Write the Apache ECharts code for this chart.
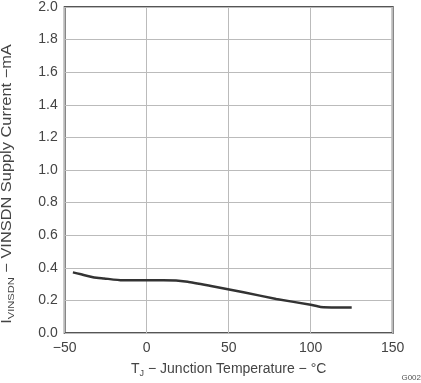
<!DOCTYPE html>
<html>
<head>
<meta charset="utf-8">
<script src="https://cdn.jsdelivr.net/npm/echarts@6/dist/echarts.min.js"></script>
<style>
html,body{margin:0;padding:0;background:#fff;}
#c{width:421px;height:383px;}
</style>
</head>
<body>
<div id="c"></div>
<script>
var temperatures = [-45, -40, -32, -26, -15, 0, 10, 25, 40, 59, 79, 100, 106, 116, 125];
var supplyCurrent = [0.372, 0.36, 0.341, 0.335, 0.323, 0.323, 0.323, 0.315, 0.287, 0.25, 0.209, 0.173, 0.16, 0.157, 0.157];
var xTicks = [-50, 0, 50, 100, 150];
var yTicks = [0.0, 0.2, 0.4, 0.6, 0.8, 1.0, 1.2, 1.4, 1.6, 1.8, 2.0];

var font = 'Liberation Sans, Arial, sans-serif';
var txt = '#444';
var chart = echarts.init(document.getElementById('c'));
var pts = temperatures.map(function (t, i) { return [t, supplyCurrent[i]]; });
chart.setOption({
  animation: false,
  grid: { left: 64.7, right: 28.3, top: 5, bottom: 50, show: true, borderColor: '#555', borderWidth: 2, backgroundColor: 'transparent' },
  xAxis: {
    type: 'value', min: -50, max: 150, interval: 50,
    name: '{a|T}{s|J}{a| − Junction Temperature − °C}',
    nameLocation: 'middle', nameGap: 28,
    nameTextStyle: { rich: {
      a: { fontFamily: font, fontSize: 14, color: txt },
      s: { fontFamily: font, fontSize: 9, color: txt, padding: [8, 0, 0, 0] }
    } },
    axisLine: { show: false }, axisTick: { show: false },
    axisLabel: { fontFamily: font, fontSize: 14, color: txt, margin: 8,
      formatter: function (v) { return xTicks.indexOf(v) >= 0 ? String(v).replace('-', '−') : ''; } },
    splitLine: { show: true, lineStyle: { color: '#bbb', width: 1 } }
  },
  yAxis: {
    type: 'value', min: 0, max: 2, interval: 0.2,
    axisLine: { show: false }, axisTick: { show: false },
    axisLabel: { fontFamily: font, fontSize: 14, color: txt, margin: 7,
      formatter: function (v) { return v.toFixed(1); } },
    splitLine: { show: true, lineStyle: { color: '#bbb', width: 1 } }
  },
  graphic: [
    {
      type: 'text', x: 7, y: 184, rotation: Math.PI / 2, scaleX: 1.17,
      style: {
        text: '{a|I}{s|VINSDN}{a| − VINSDN Supply Current −mA}',
        align: 'center', verticalAlign: 'middle',
        rich: {
          a: { fontFamily: font, fontSize: 14, fill: txt, color: txt },
          s: { fontFamily: font, fontSize: 9.5, fill: txt, color: txt, padding: [8, 0, 0, 0] }
        }
      }
    },
    {
      type: 'text', right: 0, bottom: 1,
      style: { text: 'G002', fontFamily: font, fontSize: 8, fill: '#555' }
    }
  ],
  series: [{
    type: 'line', data: pts, showSymbol: false, smooth: 0.15,
    lineStyle: { color: '#333', width: 2.5 }
  }]
});
</script>
</body>
</html>
